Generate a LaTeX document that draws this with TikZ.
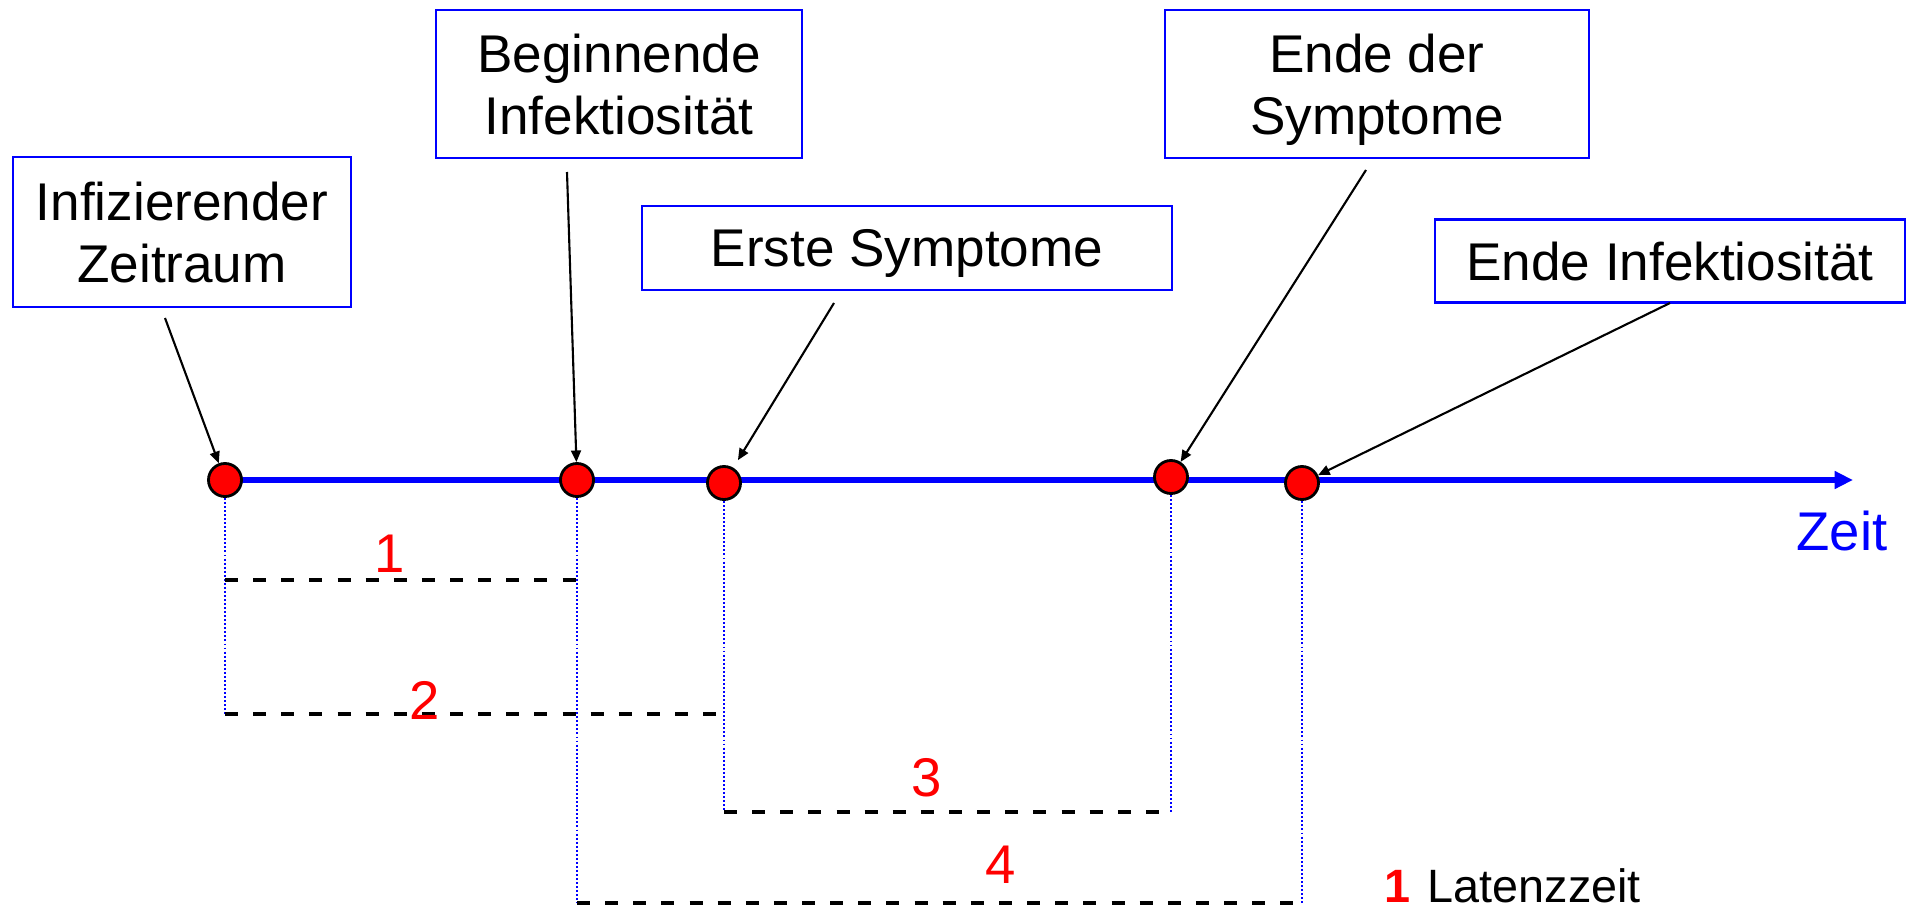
\documentclass[tikz,border=0pt]{standalone}
\usepackage{fontspec}
\setmainfont{Liberation Sans}
\usetikzlibrary{arrows.meta}

\tikzset{
  kasten/.style={draw=blue,line width=0.6pt,align=center,text depth=0pt,inner sep=0pt,
    font=\fontsize{15.1}{17.6}\selectfont},
  punkt/.style={circle,draw=black,fill=red,line width=0.8pt,minimum size=0.33cm,inner sep=0pt},
  pfeil/.style={-{Triangle[length=3.3pt,width=2.8pt]},line width=0.6pt},
  achse/.style={-{Triangle[length=5.2pt,width=4.8pt]},blue,line width=1.8pt},
  hilfslinie/.style={blue,line width=0.6pt,dash pattern=on 0.55pt off 0.6pt},
  strecke/.style={line width=1.2pt,dash pattern=on 3.7pt off 4.3pt},
  nummer/.style={red,anchor=base,inner sep=0pt,font=\fontsize{15.5}{18}\selectfont}
}

\begin{document}
\begin{tikzpicture}[x=0.01cm,y=-0.01cm]
  \useasboundingbox (0,0) rectangle (1908,909);

  % Kaesten
  \node[kasten,minimum width=3.38cm,minimum height=1.50cm] (inf) at (182,232) {Infizierender\\Zeitraum};
  \node[kasten,minimum width=3.66cm,minimum height=1.48cm] (beginn) at (619,84) {Beginnende\\Infektiosität};
  \node[kasten,minimum width=5.30cm,minimum height=0.84cm] (erste) at (907,248) {Erste Symptome};
  \node[kasten,minimum width=4.24cm,minimum height=1.48cm] (endesym) at (1377,84) {Ende der\\Symptome};
  \node[kasten,minimum width=4.70cm,minimum height=0.83cm] (endeinf) at (1670,261) {Ende Infektiosität};

  % Zeitachse
  \coordinate (anfang) at (225,480);
  \coordinate (ende) at (1853,480);
  \draw[achse] (anfang) -- (ende);
  \node[blue,anchor=base,inner sep=0pt,font=\fontsize{15.5}{18}\selectfont] (zeit) at (1842,550) {Zeit};

  \node[punkt] (p1) at (225,480) {};
  \node[punkt] (p2) at (577,480) {};
  \node[punkt] (p3) at (724,483) {};
  \node[punkt] (p4) at (1171,477) {};
  \node[punkt] (p5) at (1302,483) {};

  % Pfeile
  \coordinate (s1) at (165,318);
  \coordinate (s2) at (567,172);
  \coordinate (s3) at (834,303);
  \coordinate (s4) at (1366,170);
  \coordinate (s5) at (1670,303);
  \draw[pfeil] (s1) -- (p1);
  \draw[pfeil] (s2) -- (p2);
  \draw[pfeil,shorten >=2.5pt] (s3) -- (p3);
  \draw[pfeil] (s4) -- (p4);
  \draw[pfeil] (s5) -- (p5);

  % Hilfslinien
  \draw[hilfslinie] (p1.south) -- (p1 |- 0,714);
  \draw[hilfslinie] (p2.south) -- (p2 |- 0,903);
  \draw[hilfslinie] (p3.south) -- (p3 |- 0,812);
  \draw[hilfslinie] (p4.south) -- (p4 |- 0,812);
  \draw[hilfslinie] (p5.south) -- (p5 |- 0,903);

  % Zeitspannen
  \draw[strecke] (p1 |- 0,580) -- (p2 |- 0,580);
  \draw[strecke] (p1 |- 0,714) -- (p3 |- 0,714);
  \draw[strecke] (p3 |- 0,812) -- (p4 |- 0,812);
  \draw[strecke] (p2 |- 0,903) -- (p5 |- 0,903);

  \node[nummer] (n1) at (390,572) {1};
  \node[nummer] (n2) at (425,719) {2};
  \node[nummer] (n3) at (927,796) {3};
  \node[nummer] (n4) at (1001,883) {4};

  % Legende
  \node[nummer,font=\fontsize{13.3}{16}\selectfont\bfseries] (leg1) at (1397,902) {1};
  \node[anchor=base west,inner sep=0pt,font=\fontsize{13.3}{16}\selectfont] (legtext) at (1427,902) {Latenzzeit};
\end{tikzpicture}
\end{document}
